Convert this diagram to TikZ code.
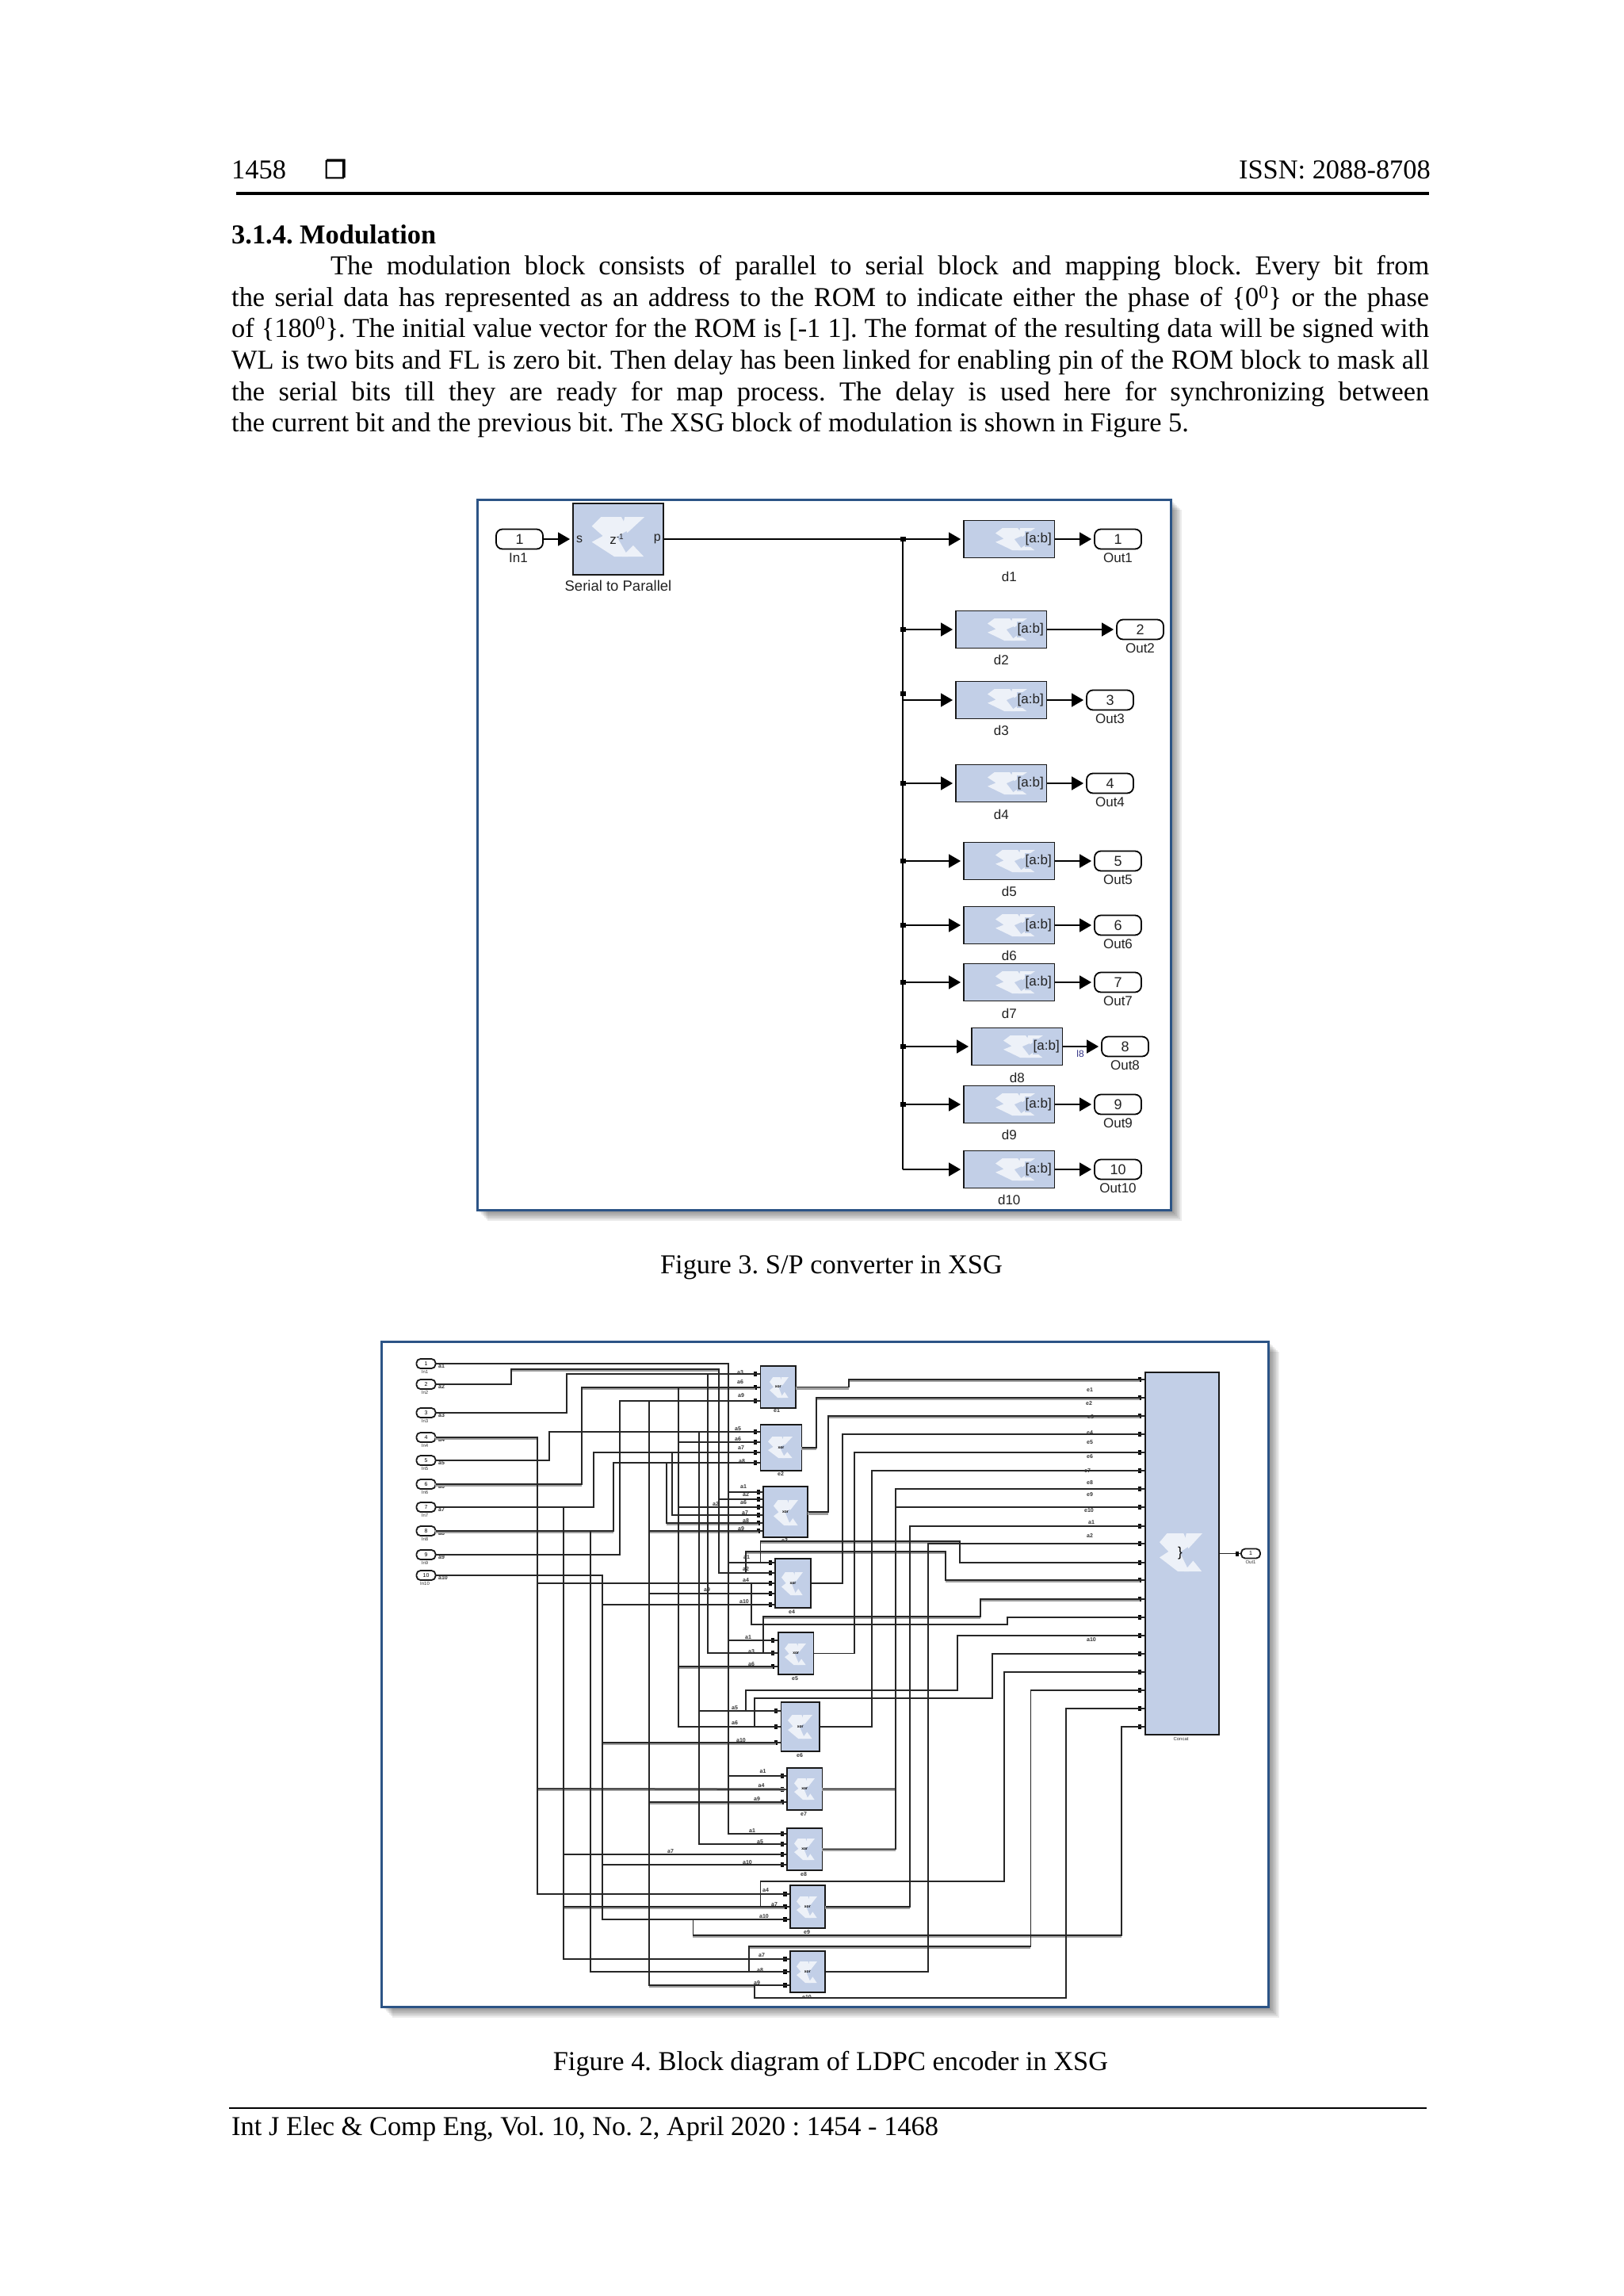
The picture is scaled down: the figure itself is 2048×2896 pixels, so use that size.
\documentclass[tikz,border=0pt]{standalone}
\usepackage{fontspec}
\setmainfont{Liberation Serif}
\newfontfamily\fsans{Liberation Sans}
\newfontfamily\dvs{DejaVu Sans}[FakeBold=2.5]
\usetikzlibrary{arrows.meta,calc}
\definecolor{blk}{HTML}{C2CFE7}
\definecolor{frameb}{HTML}{2C5486}
\definecolor{logoc}{HTML}{EDF1F8}
\definecolor{inkc}{HTML}{222222}
\newcounter{jn}
\frenchspacing
\tikzset{
  body/.style={anchor=base west,inner sep=0pt,font=\frenchspacing\fontsize{34.4}{40}\selectfont},
  caption/.style={anchor=base,inner sep=0pt,font=\frenchspacing\fontsize{34.4}{40}\selectfont},
  xb/.style={draw=black!90,line width=1.9pt,fill=blk,inner sep=0pt},
  outp/.style={draw=black,line width=1.8pt,fill=white,rounded corners=8pt,minimum width=59pt,minimum height=25pt,inner sep=0pt,font=\fsans\fontsize{18}{20}\selectfont,text=inkc},
  ipt/.style={draw=black!90,line width=1.8pt,fill=white,rounded corners=5pt,minimum width=24pt,minimum height=12pt,inner sep=0pt,font=\fsans\fontsize{7}{8}\selectfont},
  flab/.style={inner sep=0pt,font=\fsans\fontsize{17}{20}\selectfont,text=inkc},
  tlab/.style={inner sep=0pt,font=\fsans\bfseries\fontsize{7}{8}\selectfont,text=black!80},
  swire/.style={draw=black,line width=1.7pt},
  sarr/.style={swire,-{Triangle[length=15pt,width=17pt]},shorten >=3pt},
  wire/.style={draw=black!85,line width=1.5pt,line join=miter},
  gwire/.style={draw=black!38,line width=3.4pt},
  framebox/.style={draw=frameb,line width=3pt,fill=white},
}
\newcommand\xblk[5]{\pgfmathsetmacro\wv{#4-#2}\pgfmathsetmacro\hv{#5-#3}\node[xb,minimum width=\wv pt,minimum height=\hv pt] (#1) at ({(#2+#4)/2},{(#3+#5)/2}) {};}
\newcommand\xlogo[4]{\pgfmathsetmacro\lx{#3/200}\pgfmathsetmacro\ly{#4/150}\begin{scope}[shift={(#1,#2)},x=\lx pt,y=-\ly pt]
\fill[logoc] (35,0)--(112,0)--(138,50)--(95,75)--(138,150)--(85,150)--(0,95)--(42,72)--(0,35)--cycle;
\fill[logoc] (125,0)--(200,0)--(135,60)--(118,30)--cycle;
\fill[logoc] (115,150)--(157,108)--(197,150)--cycle;
\end{scope}}
\newcommand\frameshadow[4]{\foreach \s in {2,4,...,14}{\fill[black,opacity=.075] (#1+\s-1,#2+\s-1) rectangle (#3+\s,#4+\s);}\node[framebox,minimum width=#3pt-#1pt,minimum height=#4pt-#2pt,inner sep=0pt] (fr#1) at ({(#1+#3)/2},{(#2+#4)/2}) {};}
% d block in Fig. 3
\newcommand\dblk[7]{% name, x-left, cy, out-cx, number, label dy, d-label
  \pgfmathsetmacro\xa{#2+57.25}
  \node[xb,minimum width=114.5pt,minimum height=47pt] (d#1) at (\xa,#3) {};
  \xlogo{#2+40}{#3-14}{50}{28}
  \node[flab,anchor=east,fill=blk,inner xsep=1pt,inner ysep=2pt] (tab#1) at (#2+112,#3) {[a:b]};
  \node[outp] (o#1) at (#4,#3) {#5};
  \node[flab] (ol#1) at (#4,#3+24) {Out#5};
  \node[flab] (dl#1) at (\xa,#3+#6) {#7};
  \draw[sarr] (d#1.east) -- (o#1.west);
  \coordinate (jb#1) at (1139,#3);
  \draw[sarr] (jb#1) -- (d#1.west);
}
\newcommand\ports[3]{\foreach \yy [count=\i] in {#3}{\coordinate (#1i\i) at (#1.west |- 0,\yy); \fill[black] (#2-2.2,\yy-3.2) rectangle (#2+2.2,\yy+3.2);}}
\newcommand\jb[3]{\stepcounter{jn}\coordinate (j\thejn) at (#1,#2);\draw[wire] (j\thejn) -- (#3);}
\newcommand\vb[4]{\stepcounter{jn}\coordinate (j\thejn) at (#1,#2);\draw[wire] (j\thejn) -- (#1,#3) -- (#4);}
\newcommand\bb[6]{\stepcounter{jn}\coordinate (j\thejn) at (#1,#2);\draw[wire] (j\thejn) -- (#1,#3) -- (#4,#3) -- (#4,#5) -- (#6);}
\begin{document}
\begin{tikzpicture}[x=1pt,y=-1pt]
\useasboundingbox (0,0) rectangle (2048,2896);
\fill[white] (0,0) rectangle (2048,2896);
% --- page text ---
\node[body] (pg) at (292,225) {1458};
\node[anchor=base west,inner sep=0pt,font=\dvs\fontsize{31}{32}\selectfont] (sq) at (409,225) {❐};
\node[body,anchor=base east] (issn) at (1805,225) {ISSN: 2088-8708};
\coordinate (ra) at (298,244); \coordinate (rb) at (1803,244);
\draw[line width=3.4pt] (ra) -- (rb);
\node[body,font=\bfseries\fontsize{34.4}{40}\selectfont] (hd) at (292,307) {3.1.4. Modulation};
\node[body] (l1) at (417,346) {\hbox to 1386pt{The modulation block consists of parallel to serial block and mapping block. Every bit from}};
\node[body] (l2) at (292,386) {\hbox to 1511pt{the serial data has represented as an address to the ROM to indicate either the phase of \{0\textsuperscript{0}\} or the phase}};
\node[body] (l3) at (292,425) {\hbox to 1511pt{of \{180\textsuperscript{0}\}. The initial value vector for the ROM is [-1 1]. The format of the resulting data will be signed with}};
\node[body] (l4) at (292,465) {\hbox to 1511pt{WL is two bits and FL is zero bit. Then delay has been linked for enabling pin of the ROM block to mask all}};
\node[body] (l5) at (292,505) {\hbox to 1511pt{the serial bits till they are ready for map process. The delay is used here for synchronizing between}};
\node[body] (l6) at (292,544) {the current bit and the previous bit. The XSG block of modulation is shown in Figure 5.};
\node[caption] (c3) at (1049,1606) {Figure 3. S/P converter in XSG};
\node[caption] (c4) at (1048,2611) {Figure 4. Block diagram of LDPC encoder in XSG};
\coordinate (fa) at (289,2659); \coordinate (fb) at (1800,2659);
\draw[line width=2.6pt] (fa) -- (fb);
\node[body] (ft) at (292,2693) {Int J Elec \& Comp Eng, Vol. 10, No. 2, April 2020 : 1454 - 1468};
% --- Figure 3 ---
\frameshadow{602}{630}{1477}{1526}
\node[outp] (in1) at (655.5,680) {1};
\node[flab] (in1l) at (654,704) {In1};
\node[xb,minimum width=114pt,minimum height=90pt] (ser) at (780,680) {};
\xlogo{746.7}{652}{66.5}{50}
\node[flab,anchor=west,font=\fsans\fontsize{16}{20}\selectfont] (sers) at (727,680) {s};
\node[flab,anchor=east,font=\fsans\fontsize{16}{20}\selectfont] (serp) at (834,680) {p};
\node[flab,font=\fsans\fontsize{17}{20}\selectfont] (serz) at (778,680) {z\raisebox{6pt}{\fontsize{10}{12}\selectfont -1}};
\node[flab,font=\fsans\fontsize{18.5}{20}\selectfont] (serl) at (780,739) {Serial to Parallel};
\draw[sarr] (in1.east) -- (ser.west);
\dblk{1}{1216}{680}{1410.5}{1}{47}{d1}
\dblk{2}{1206}{794}{1438.5}{2}{38}{d2}
\dblk{3}{1206}{883}{1400.5}{3}{38}{d3}
\dblk{4}{1206}{988}{1400.5}{4}{39}{d4}
\dblk{5}{1216}{1086}{1410.5}{5}{38}{d5}
\dblk{6}{1216}{1167}{1410.5}{6}{38}{d6}
\dblk{7}{1216}{1239}{1410.5}{7}{39}{d7}
\dblk{8}{1226}{1320}{1419.5}{8}{39}{d8}
\dblk{9}{1216}{1393}{1410.5}{9}{38}{d9}
\dblk{10}{1216}{1475}{1410.5}{10}{38}{d10}
\draw[swire] (ser.east) -- (jb1);
\draw[swire] (jb1) -- (jb10);
\coordinate (jd3) at (1139,875);
\foreach \n in {jb1,jb2,jd3,jb4,jb5,jb6,jb7,jb8,jb9}{\fill[black] ($(\n)+(-3.5,-3)$) rectangle ($(\n)+(3.5,3)$);}
\node[flab,text=black!45!blue!60!gray,font=\fsans\fontsize{12}{14}\selectfont] (l8t) at (1363,1329) {l8};
% --- Figure 4 ---
\frameshadow{481.5}{1692}{1600}{2531}
\foreach \n/\yy in {1/1720,2/1746,3/1782,4/1813,5/1842,6/1872,7/1901,8/1931,9/1961,10/1987}{
  \node[ipt] (a\n) at (537.5,\yy) {\n};
  \node[tlab,anchor=west] (al\n) at (553,\yy+3.5) {a\n};
  \node[tlab,font=\fsans\fontsize{6}{7}\selectfont] (il\n) at (536,\yy+10.5) {In\n};
}
\xblk{e1}{959.5}{1723}{1004}{1776}
\xblk{e2}{959.5}{1797}{1011.5}{1855}
\xblk{e3}{963}{1875}{1019}{1939}
\xblk{e4}{978}{1966}{1023}{2028}
\xblk{e5}{982}{2059}{1026.5}{2112}
\xblk{e6}{985.5}{2147}{1034}{2209}
\xblk{e7}{993}{2230}{1037.5}{2283}
\xblk{e8}{993}{2306}{1037.5}{2359}
\xblk{e9}{996.6}{2378}{1041}{2432}
\xblk{e10}{996.6}{2461}{1041}{2513}
\xblk{big}{1445}{1731}{1538}{2188}
\xlogo{1463}{1934}{54}{48}
\node[inner sep=0pt,font=\fsans\fontsize{17}{20}\selectfont] (bigt) at (1489,1959) {\}};
\foreach \n/\xa/\ya/\ww/\hh in {e1/971/1737/24/26,e2/969/1812/31/27,e3/976/1892/31/32,e4/986/1983/27/29,e5/990/2073/27/27,e6/994/2163/31/30,e7/1002/2243/26/27,e8/1002/2319/26/27,e9/1005/2392/26/27,e10/1005/2474/26/27}{
  \xlogo{\xa}{\ya}{\ww}{\hh}
  \node[inner sep=0pt,font=\fsans\bfseries\fontsize{5}{6}\selectfont] (tx\n) at (\n.center) {xor};
}
\ports{e1}{953}{1733,1750,1767}
\ports{e2}{953}{1806,1819,1832,1845}
\ports{e3}{957}{1882,1891,1901,1911,1921,1931}
\ports{e4}{972}{1971,1984,1997,2010,2024}
\ports{e5}{975}{2069,2085,2102}
\ports{e6}{979}{2158,2178,2198}
\ports{e7}{987}{2240,2257,2273}
\ports{e8}{987}{2313,2326,2339,2352}
\ports{e9}{990.5}{2389,2405,2421}
\ports{e10}{990.5}{2471,2487,2504}
\ports{big}{1438}{1740,1763,1786,1809,1832,1855,1878,1901,1925,1947,1971,1993,2017,2040,2063,2086,2109,2132,2155,2178}
\foreach \xa/\xb/\yy in {645/907/1727,734/953/1750,549/678/1813,549/734/1872,841/957/1921,549/774/1931,819/957/1931,1004/1071/1750,1071/1438/1740,1030/1438/1763,1045/1438/1786,1011/1030/1826,1019/1045/1908,959/1211/1944,941/1193/1957,1193/1438/1993,963/1237/2039,856/975/2102,760/979/2198,819/987/2273,1037/1130/2332,711/990/2405,1041/1148/2405,874/1415/2441,945/1300/2455,819/952/2504,678/990/2256,1037/1130/2256,1237/1438/2017}{
  \draw[gwire] (\xa,\yy+1) -- (\xb,\yy+1);
}
\draw[wire] (a1.east) -| (919,2313) -- (e8i1);
\draw[wire] (a2.east) -| (645,1727) -| (907,1984) -- (e4i2);
\draw[wire] (a3.east) -| (715,1733) -- (e1i1);
\draw[wire] (a4.east) -| (678,2389) -- (e9i1);
\draw[wire] (a5.east) -| (693,1806) -- (e2i1);
\draw[wire] (a6.east) -| (734,1750) -- (e1i2);
\draw[wire] (a7.east) -| (749,1832) -- (e2i3);
\draw[wire] (a8.east) -| (774,1845) -- (e2i4);
\draw[wire] (a9.east) -| (782,1767) -- (e1i3);
\draw[wire] (a10.east) -| (760,2421) -- (e9i3);
\jb{919}{1882}{e3i1}\jb{919}{1971}{e4i1}\jb{919}{2069}{e5i1}\jb{919}{2240}{e7i1}
\jb{907}{1891}{e3i2}
\vb{893}{1733}{2085}{e5i2}
\vb{856}{1750}{2178}{e6i2}
\jb{856}{1819}{e2i2}\jb{856}{1901}{e3i3}\jb{856}{2102}{e5i3}
\vb{819}{1767}{2504}{e10i3}
\jb{819}{1931}{e3i6}\jb{819}{2010}{e4i4}\jb{819}{2273}{e7i3}
\vb{882}{1806}{2326}{e8i2}
\jb{882}{2158}{e6i1}
\vb{848}{1832}{1911}{e3i4}
\vb{711}{1901}{2471}{e10i1}
\jb{711}{2339}{e8i3}\jb{711}{2405}{e9i2}
\vb{841}{1845}{1921}{e3i5}
\vb{745}{1931}{2487}{e10i2}
\jb{678}{1997}{e4i3}\jb{678}{2256}{e7i2}
\jb{760}{2024}{e4i5}\jb{760}{2198}{e6i3}\jb{760}{2352}{e8i4}
% block outputs into the big block
\draw[wire] (e1.east) -| (1071,1740) -- (bigi1);
\draw[wire] (e2.east) -| (1030,1763) -- (bigi2);
\draw[wire] (e3.east) -| (1045,1786) -- (bigi3);
\draw[wire] (e4.east) -| (1063,1809) -- (bigi4);
\draw[wire] (e5.east) -| (1078,1832) -- (bigi5);
\draw[wire] (e6.east) -| (1100,1855) -- (bigi6);
\draw[wire] (e7.east) -| (1130,1878) -- (bigi7);
\draw[wire] (e8.east) -| (1130,1901) -- (bigi8);
\draw[wire] (e9.east) -| (1148,1925) -- (bigi9);
\draw[wire] (e10.east) -| (1171,1947) -- (bigi10);
\bb{959.5}{1971}{1944}{1211}{1971}{bigi11}
\bb{941}{1984}{1957}{1193}{1993}{bigi12}
\bb{963}{2085}{2039}{1237}{2017}{bigi13}
\bb{948}{1997}{2049}{1271}{2040}{bigi14}
\bb{941}{2158}{2132}{1208}{2063}{bigi15}
\bb{952}{2178}{2142}{1252}{2086}{bigi16}
\bb{959.5}{2405}{2373}{1267}{2109}{bigi17}
\bb{945}{2487}{2455}{1300.5}{2132}{bigi18}
\bb{952}{2504}{2520}{1345}{2155}{bigi19}
\bb{874.5}{2421}{2441}{1415}{2178}{bigi20}
% output
\node[ipt] (z1) at (1578,1959.5) {1};
\node[tlab,font=\fsans\fontsize{6}{7}\selectfont] (z1l) at (1578,1970) {Out1};
\draw[wire] (big.east) -- (z1.west);
\fill[black] (1559,1956.5) rectangle (1563,1962.5);
\node[tlab,font=\fsans\fontsize{6}{7}\selectfont] (bigl) at (1490,2193) {Concat};
% tiny signal labels
\foreach \tx/\ty/\lbl [count=\k] in {934/1731/a3,934/1743/a6,935/1760/a9,931/1802/a5,931/1815/a6,935/1826/a7,936/1843/a8,938/1875/a1,941/1885/a2,938/1895/a6,940/1908/a7,941/1918/a8,935/1928/a9,903/1897/a2,942/1964/a1,941/1979/a2,941/1993/a4,892/2005/a9,939/2020/a10,944/2065/a1,948/2083/a3,948/2099/a6,927/2154/a5,927/2173/a6,935/2195/a10,962.5/2234/a1,960.6/2252/a4,955/2269/a9,949/2309/a1,959/2323/a5,846/2335/a7,943/2349/a10,966/2384/a4,977/2402/a7,964/2417/a10,961/2466/a7,959/2485/a8,955/2501/a9,1375/1753/e1,1374/1770/e2,1376/1787/e3,1375/1807/e4,1375/1819/e5,1375/1837/e6,1372/1855/e7,1375/1870/e8,1375/1885/e9,1374/1905/e10,1377/1920/a1,1375/1937/a2,1377/2068/a10,980/1779/e1,985/1859/e2,990/1943/e3,999/2033/e4,1003/2117/e5,1009/2214/e6,1014/2288/e7,1014/2364/e8,1018/2437/e9,1018/2519/e10}{
  \node[tlab] (ts\k) at (\tx,\ty) {\lbl};
}
\end{tikzpicture}
\end{document}
